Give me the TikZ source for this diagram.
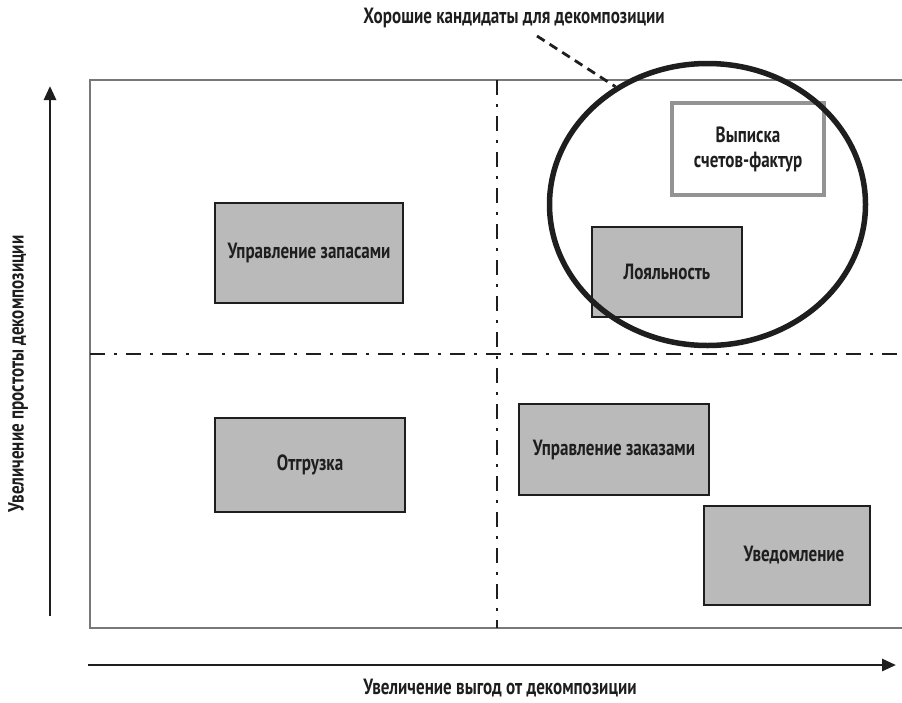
\documentclass[tikz,border=0pt]{standalone}
\usepackage{fontspec}
\setmainfont{PT Sans}[FakeStretch=0.775]
\usetikzlibrary{arrows.meta,shapes.geometric}
\definecolor{boxfill}{RGB}{186,186,186}
\definecolor{framegray}{RGB}{120,120,120}
\definecolor{ink}{RGB}{30,30,30}
\tikzset{
  label font/.style={font=\fontsize{22}{25}\selectfont\bfseries, text=ink},
  svc/.style={label font, draw=ink, line width=2.4pt, fill=boxfill, inner sep=0pt, align=center},
  candidate/.style={label font, draw=framegray!80, line width=4pt, fill=white, inner sep=0pt, align=center},
  divider/.style={line width=2pt, ink, dash pattern=on 15pt off 9pt on 3pt off 9pt},
  axis/.style={line width=2.8pt, ink, -{Triangle[length=14pt,width=12pt]}},
  caption/.style={label font},
}
\begin{document}
\begin{tikzpicture}[x=1pt,y=-1pt]
\useasboundingbox (0,0) rectangle (902,702);

% quadrant frame and dividers
\draw[framegray, line width=1.6pt] (902,80) -- (90,80) -- (90,628) -- (902,628);
\draw[divider] (497,80) -- (497,628);
\draw[divider] (90,354) -- (902,354);

% axes
\coordinate (ybot) at (50,616);
\coordinate (ytop) at (50,86);
\coordinate (xleft) at (88,665);
\coordinate (xright) at (896,665);
\draw[axis] (ybot) -- (ytop);
\draw[axis] (xleft) -- (xright);
\node[caption, rotate=90] (ylab) at (18,374) {Увеличение простоты декомпозиции};
\node[caption] (xlab) at (500,688) {Увеличение выгод от декомпозиции};

% services
\node[svc, minimum width=188pt, minimum height=100pt] (stock) at (309,253) {Управление запасами};
\node[svc, minimum width=190pt, minimum height=94pt] (ship) at (310,465) {Отгрузка};
\node[svc, minimum width=190pt, minimum height=91pt] (orders) at (614,449.5) {Управление заказами};
\node[svc, minimum width=166pt, minimum height=99pt] (notify) at (787,555.5) {\hspace*{14pt}Уведомление};
\node[svc, minimum width=150pt, minimum height=90pt] (loyal) at (667,272) {Лояльность};
\node[candidate, minimum width=152pt, minimum height=92pt] (invoice) at (748,149) {Выписка\\счетов-фактур};

% highlighted group
\node[draw=ink, line width=5.5pt, ellipse, minimum width=316pt, minimum height=282pt, inner sep=0pt] (good) at (707.5,204.5) {};
\node[caption] (goodlab) at (514,18) {Хорошие кандидаты для декомпозиции};
\coordinate (lead) at (537,36);
\draw[ink, line width=2.8pt, dash pattern=on 9pt off 6pt] (lead) -- (good.128);
\end{tikzpicture}
\end{document}
